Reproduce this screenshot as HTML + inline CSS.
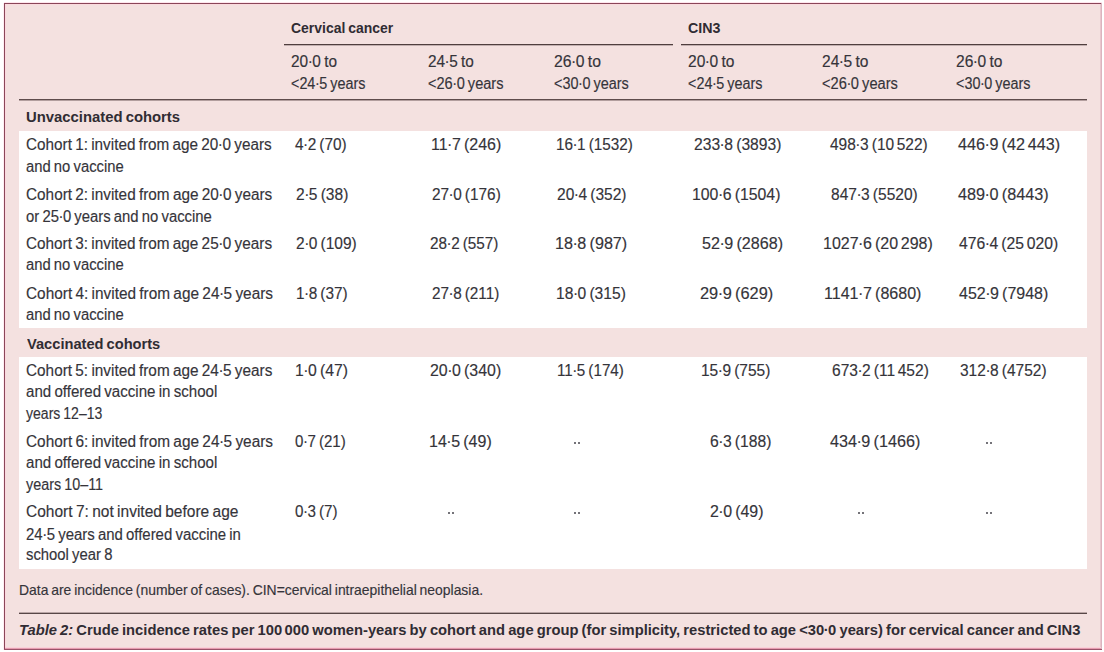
<!DOCTYPE html>
<html><head><meta charset="utf-8"><style>
html,body{margin:0;padding:0;}
body{width:1104px;height:652px;overflow:hidden;background:#fff;position:relative;}
.bx{position:absolute;}

.t{position:absolute;white-space:pre;line-height:1;transform-origin:0 0;color:#35343a;font-family:"Liberation Sans",sans-serif;word-spacing:-1px;}
.t .d{margin:0 -0.5px;}
.t .ts{margin:0 -0.5px;}
.r{font-size:15.6px;font-weight:400;-webkit-text-stroke:0.15px #35343a;}
.b{font-size:14.9px;font-weight:700;color:#302c33;}
.fn{font-size:14.2px;font-weight:400;-webkit-text-stroke:0.15px #35343a;}
.cap{font-size:15.2px;font-weight:700;color:#302c33;}

</style></head><body>
<div class="bx" style="left:4px;top:3px;width:1098px;height:647px;background:#f4e1e0"></div>
<div class="bx" style="left:5px;top:4px;width:1096px;height:1px;background:#fbdade"></div>
<div class="bx" style="left:5px;top:4px;width:1px;height:644px;background:#fbd8de"></div>
<div class="bx" style="left:4px;top:2px;width:1098px;height:1px;background:#ffe6ee"></div>
<div class="bx" style="left:3px;top:3px;width:1px;height:647px;background:#ffeef2"></div>
<div class="bx" style="left:4px;top:3px;width:1098px;height:1px;background:#8a4659"></div>
<div class="bx" style="left:4px;top:3px;width:1px;height:647px;background:#8a4659"></div>
<div class="bx" style="left:1100px;top:4px;width:1px;height:645px;background:#eac6cd"></div>
<div class="bx" style="left:1101px;top:3px;width:1px;height:647px;background:#dbb4bf"></div>
<div class="bx" style="left:5px;top:647px;width:1096px;height:1px;background:#f9d2da"></div>
<div class="bx" style="left:5px;top:648px;width:1096px;height:1px;background:#e59cb0"></div>
<div class="bx" style="left:4px;top:649px;width:1098px;height:1px;background:#9c5269"></div>
<div class="bx" style="left:19px;top:131px;width:1068px;height:197px;background:#fff"></div>
<div class="bx" style="left:19px;top:357px;width:1068px;height:212px;background:#fff"></div>
<div class="bx" style="left:284px;top:44px;width:389px;height:1px;background:#4f3e3e"></div>
<div class="bx" style="left:284px;top:45px;width:389px;height:1px;background:#c2b0b0"></div>
<div class="bx" style="left:681px;top:44px;width:406px;height:1px;background:#4f3e3e"></div>
<div class="bx" style="left:681px;top:45px;width:406px;height:1px;background:#c2b0b0"></div>
<div class="bx" style="left:19px;top:99px;width:1068px;height:1px;background:#5e4c4c"></div>
<div class="bx" style="left:19px;top:100px;width:1068px;height:1px;background:#b29e9e"></div>
<div class="bx" style="left:19px;top:612px;width:1068px;height:1px;background:#baa6a6"></div>
<div class="bx" style="left:19px;top:613px;width:1068px;height:1px;background:#574747"></div>
<div class="bx" style="left:573.9px;top:442.1px;width:2.2px;height:2.2px;border-radius:1.1px;background:#46454c"></div>
<div class="bx" style="left:578.0px;top:442.1px;width:2.2px;height:2.2px;border-radius:1.1px;background:#46454c"></div>
<div class="bx" style="left:985.8px;top:442.1px;width:2.2px;height:2.2px;border-radius:1.1px;background:#46454c"></div>
<div class="bx" style="left:989.8px;top:442.1px;width:2.2px;height:2.2px;border-radius:1.1px;background:#46454c"></div>
<div class="bx" style="left:448.2px;top:512.2px;width:2.2px;height:2.2px;border-radius:1.1px;background:#46454c"></div>
<div class="bx" style="left:452.2px;top:512.2px;width:2.2px;height:2.2px;border-radius:1.1px;background:#46454c"></div>
<div class="bx" style="left:573.9px;top:512.2px;width:2.2px;height:2.2px;border-radius:1.1px;background:#46454c"></div>
<div class="bx" style="left:578.0px;top:512.2px;width:2.2px;height:2.2px;border-radius:1.1px;background:#46454c"></div>
<div class="bx" style="left:858.0px;top:512.2px;width:2.2px;height:2.2px;border-radius:1.1px;background:#46454c"></div>
<div class="bx" style="left:862.1px;top:512.2px;width:2.2px;height:2.2px;border-radius:1.1px;background:#46454c"></div>
<div class="bx" style="left:985.8px;top:512.2px;width:2.2px;height:2.2px;border-radius:1.1px;background:#46454c"></div>
<div class="bx" style="left:989.8px;top:512.2px;width:2.2px;height:2.2px;border-radius:1.1px;background:#46454c"></div>
<div class="t b" style="left:291.3px;top:21px;transform:scaleX(0.9376)">Cervical cancer</div>
<div class="t b" style="left:688.4px;top:21px;transform:scaleX(0.9559)">CIN3</div>
<div class="t r" style="left:291.3px;top:54px;transform:scaleX(0.9872)">20<span class=d>·</span>0 to</div>
<div class="t r" style="left:291.3px;top:76px;transform:scaleX(0.921)">&lt;24<span class=d>·</span>5 years</div>
<div class="t r" style="left:427.8px;top:54px;transform:scaleX(0.9851)">24<span class=d>·</span>5 to</div>
<div class="t r" style="left:427.8px;top:76px;transform:scaleX(0.9346)">&lt;26<span class=d>·</span>0 years</div>
<div class="t r" style="left:553.5px;top:54px;transform:scaleX(1.0085)">26<span class=d>·</span>0 to</div>
<div class="t r" style="left:553.5px;top:76px;transform:scaleX(0.9259)">&lt;30<span class=d>·</span>0 years</div>
<div class="t r" style="left:688.4px;top:54px;transform:scaleX(0.9979)">20<span class=d>·</span>0 to</div>
<div class="t r" style="left:688.4px;top:76px;transform:scaleX(0.9222)">&lt;24<span class=d>·</span>5 years</div>
<div class="t r" style="left:822.4px;top:54px;transform:scaleX(0.9979)">24<span class=d>·</span>5 to</div>
<div class="t r" style="left:822.4px;top:76px;transform:scaleX(0.9395)">&lt;26<span class=d>·</span>0 years</div>
<div class="t r" style="left:955.5px;top:54px;transform:scaleX(0.9979)">26<span class=d>·</span>0 to</div>
<div class="t r" style="left:955.5px;top:76px;transform:scaleX(0.9222)">&lt;30<span class=d>·</span>0 years</div>
<div class="t b" style="left:25.5px;top:110px;transform:scaleX(0.9967)">Unvaccinated cohorts</div>
<div class="t b" style="left:26.5px;top:337px;transform:scaleX(0.983)">Vaccinated cohorts</div>
<div class="t r" style="left:26.4px;top:137px;transform:scaleX(0.9808)">Cohort 1: invited from age 20<span class=d>·</span>0 years</div>
<div class="t r" style="left:26.4px;top:159px;transform:scaleX(0.9495)">and no vaccine</div>
<div class="t r" style="left:26.4px;top:187px;transform:scaleX(0.9832)">Cohort 2: invited from age 20<span class=d>·</span>0 years</div>
<div class="t r" style="left:26.4px;top:209px;transform:scaleX(0.9523)">or 25<span class=d>·</span>0 years and no vaccine</div>
<div class="t r" style="left:26.4px;top:236px;transform:scaleX(0.9824)">Cohort 3: invited from age 25<span class=d>·</span>0 years</div>
<div class="t r" style="left:26.4px;top:257px;transform:scaleX(0.9495)">and no vaccine</div>
<div class="t r" style="left:26.4px;top:286px;transform:scaleX(0.9864)">Cohort 4: invited from age 24<span class=d>·</span>5 years</div>
<div class="t r" style="left:26.4px;top:307px;transform:scaleX(0.9495)">and no vaccine</div>
<div class="t r" style="left:26.4px;top:363px;transform:scaleX(0.9836)">Cohort 5: invited from age 24<span class=d>·</span>5 years</div>
<div class="t r" style="left:26.4px;top:384px;transform:scaleX(0.9675)">and offered vaccine in school</div>
<div class="t r" style="left:26.4px;top:406px;transform:scaleX(0.9)">years 12–13</div>
<div class="t r" style="left:26.4px;top:434px;transform:scaleX(0.9864)">Cohort 6: invited from age 24<span class=d>·</span>5 years</div>
<div class="t r" style="left:26.4px;top:455px;transform:scaleX(0.9675)">and offered vaccine in school</div>
<div class="t r" style="left:26.4px;top:477px;transform:scaleX(0.9217)">years 10–11</div>
<div class="t r" style="left:26.4px;top:504px;transform:scaleX(0.9953)">Cohort 7: not invited before age</div>
<div class="t r" style="left:26.4px;top:527px;transform:scaleX(0.958)">24<span class=d>·</span>5 years and offered vaccine in</div>
<div class="t r" style="left:26.4px;top:547px;transform:scaleX(0.9522)">school year 8</div>
<div class="t r" style="left:295.1px;top:137px;transform:scaleX(0.9865)">4<span class=d>·</span>2 (70)</div>
<div class="t r" style="left:430.87px;top:137px;transform:scaleX(1.0254)">11<span class=d>·</span>7 (246)</div>
<div class="t r" style="left:555.52px;top:137px;transform:scaleX(0.9792)">16<span class=d>·</span>1 (1532)</div>
<div class="t r" style="left:693.7px;top:137px;transform:scaleX(1.0034)">233<span class=d>·</span>8 (3893)</div>
<div class="t r" style="left:830.4px;top:137px;transform:scaleX(0.9929)">498<span class=d>·</span>3 (10 522)</div>
<div class="t r" style="left:957.8px;top:137px;transform:scaleX(1.0378)">446<span class=d>·</span>9 (42 443)</div>
<div class="t r" style="left:295.8px;top:187px;transform:scaleX(0.9981)">2<span class=d>·</span>5 (38)</div>
<div class="t r" style="left:431.9px;top:187px;transform:scaleX(0.9855)">27<span class=d>·</span>0 (176)</div>
<div class="t r" style="left:556.5px;top:187px;transform:scaleX(0.9957)">20<span class=d>·</span>4 (352)</div>
<div class="t r" style="left:691.98px;top:187px;transform:scaleX(1.0151)">100<span class=d>·</span>6 (1504)</div>
<div class="t r" style="left:831.1px;top:187px;transform:scaleX(0.9954)">847<span class=d>·</span>3 (5520)</div>
<div class="t r" style="left:957.8px;top:187px;transform:scaleX(1.0414)">489<span class=d>·</span>0 (8443)</div>
<div class="t r" style="left:295.8px;top:236px;transform:scaleX(0.9951)">2<span class=d>·</span>0 (109)</div>
<div class="t r" style="left:430.2px;top:236px;transform:scaleX(0.9812)">28<span class=d>·</span>2 (557)</div>
<div class="t r" style="left:555.46px;top:236px;transform:scaleX(1.0353)">18<span class=d>·</span>8 (987)</div>
<div class="t r" style="left:701.5px;top:236px;transform:scaleX(1.0333)">52<span class=d>·</span>9 (2868)</div>
<div class="t r" style="left:823.07px;top:236px;transform:scaleX(1.0257)">1027<span class=d>·</span>6 (20 298)</div>
<div class="t r" style="left:959.2px;top:236px;transform:scaleX(1.0082)">476<span class=d>·</span>4 (25 020)</div>
<div class="t r" style="left:295.81px;top:286px;transform:scaleX(0.9863)">1<span class=d>·</span>8 (37)</div>
<div class="t r" style="left:431.9px;top:286px;transform:scaleX(0.9809)">27<span class=d>·</span>8 (211)</div>
<div class="t r" style="left:555.5px;top:286px;transform:scaleX(1.0015)">18<span class=d>·</span>0 (315)</div>
<div class="t r" style="left:700.4px;top:286px;transform:scaleX(1.0493)">29<span class=d>·</span>9 (629)</div>
<div class="t r" style="left:823.77px;top:286px;transform:scaleX(1.0301)">1141<span class=d>·</span>7 (8680)</div>
<div class="t r" style="left:959.2px;top:286px;transform:scaleX(1.0253)">452<span class=d>·</span>9 (7948)</div>
<div class="t r" style="left:295.09px;top:363px;transform:scaleX(1.0118)">1<span class=d>·</span>0 (47)</div>
<div class="t r" style="left:430.2px;top:363px;transform:scaleX(1.0203)">20<span class=d>·</span>0 (340)</div>
<div class="t r" style="left:557.23px;top:363px;transform:scaleX(0.9746)">11<span class=d>·</span>5 (174)</div>
<div class="t r" style="left:701.31px;top:363px;transform:scaleX(0.9941)">15<span class=d>·</span>9 (755)</div>
<div class="t r" style="left:832.2px;top:363px;transform:scaleX(0.9959)">673<span class=d>·</span>2 (11 452)</div>
<div class="t r" style="left:960.4px;top:363px;transform:scaleX(0.9943)">312<span class=d>·</span>8 (4752)</div>
<div class="t r" style="left:295.1px;top:434px;transform:scaleX(0.9673)">0<span class=d>·</span>7 (21)</div>
<div class="t r" style="left:429.17px;top:434px;transform:scaleX(1.0267)">14<span class=d>·</span>5 (49)</div>
<div class="t r" style="left:709.7px;top:434px;transform:scaleX(1.0049)">6<span class=d>·</span>3 (188)</div>
<div class="t r" style="left:830.4px;top:434px;transform:scaleX(1.0368)">434<span class=d>·</span>9 (1466)</div>
<div class="t r" style="left:295.1px;top:504px;transform:scaleX(0.9744)">0<span class=d>·</span>3 (7)</div>
<div class="t r" style="left:710.4px;top:504px;transform:scaleX(1.0212)">2<span class=d>·</span>0 (49)</div>
<div class="t fn" style="left:18.82px;top:583px;transform:scaleX(0.9801)">Data are incidence (number of cases). CIN=cervical intraepithelial neoplasia.</div>
<div class="t cap" style="left:19.03px;top:622px;transform:scaleX(0.9703)"><i>Table 2:</i> Crude incidence rates per 100 000 women-years by cohort and age group (for simplicity, restricted to age &lt;30<span class=d>·</span>0 years) for cervical cancer and CIN3</div>
</body></html>
